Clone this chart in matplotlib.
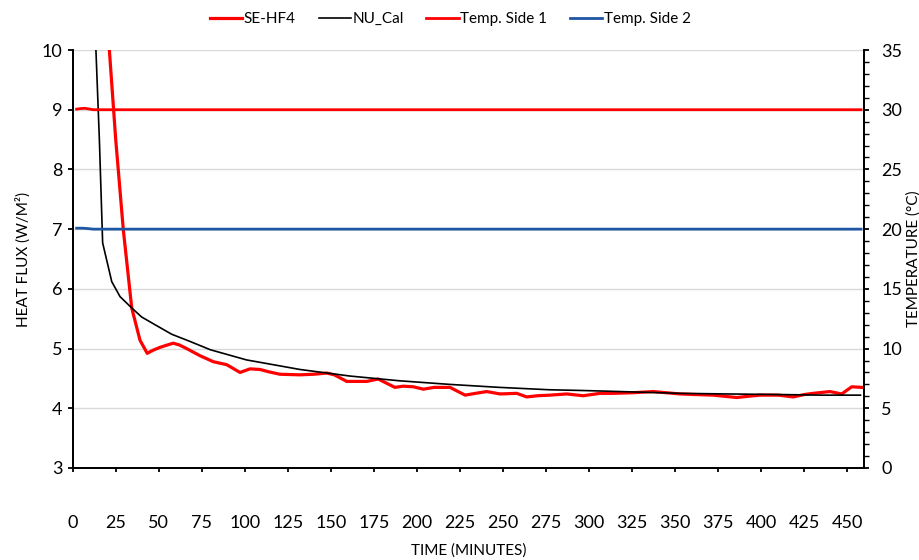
import matplotlib.pyplot as plt
from matplotlib.ticker import MultipleLocator

plt.rcParams['font.family'] = ['Lato', 'DejaVu Sans']

# Dados ####################################################################

# NU_Cal (linha preta)
t_cal = [5, 10, 13.5, 15.5, 17.4, 22.7, 27.5, 34.3, 40, 47.8, 57.5, 68.1, 80,
         101, 132, 161, 190, 219, 248, 277, 293, 306, 330, 353, 380, 411, 435, 457.7]
q_cal = [22, 14, 10.0, 8.5, 6.77, 6.12, 5.87, 5.68, 5.53, 5.40, 5.24, 5.12, 4.98,
         4.81, 4.65, 4.54, 4.46, 4.40, 4.35, 4.31, 4.30, 4.29, 4.27, 4.25, 4.24, 4.23, 4.22, 4.22]

# SE-HF4 (linha vermelha)
t_hf4 = [12, 17, 21.3, 25, 29.4, 34.3, 39.1, 43.3, 46.5, 50.7, 55, 58.4, 62, 66.2, 74,
         81.7, 89.5, 97.2, 103, 108.8, 114, 120.4, 132, 140, 147.6, 152, 159.2,
         170.8, 177.5, 187.2, 192, 197.9, 203.7, 210, 219.2, 228, 234, 240.5, 248.3,
         258, 263.8, 270, 277.3, 287, 296.6, 306.3, 314, 325, 337.3, 352.8, 362,
         372.2, 385.8, 392, 399.3, 410, 418.6, 425, 430.2, 440, 446.8, 452.6, 458.4]
q_hf4 = [15, 12, 10.0, 8.5, 6.99, 5.68, 5.14, 4.92, 4.97, 5.02, 5.06, 5.09, 5.06, 5.00, 4.88,
         4.78, 4.73, 4.60, 4.66, 4.65, 4.61, 4.57, 4.56, 4.57, 4.59, 4.56, 4.45,
         4.45, 4.49, 4.35, 4.37, 4.36, 4.32, 4.35, 4.35, 4.22, 4.25, 4.28, 4.24,
         4.25, 4.19, 4.21, 4.22, 4.24, 4.21, 4.25, 4.25, 4.26, 4.28, 4.24, 4.23,
         4.22, 4.18, 4.20, 4.22, 4.22, 4.19, 4.23, 4.25, 4.28, 4.24, 4.36, 4.35]

# Temperaturas (eixo direito)
t_temp = [2.3, 5, 7, 10, 12, 50, 150, 250, 350, 458]
temp_side1 = [30.05, 30.1, 30.12, 30.05, 30.0, 30.0, 30.0, 30.0, 30.0, 30.0]
temp_side2 = [20.08, 20.08, 20.07, 20.03, 20.0, 20.0, 20.0, 20.0, 20.0, 20.0]

x_ticks = list(range(0, 451, 25))

# Grafico ##################################################################

fig = plt.figure(figsize=(9.19, 5.6), dpi=100)
ax = fig.add_axes([0.0791, 0.1643, 0.8610, 0.7464])
ax2 = ax.twinx()

l1, = ax.plot(t_hf4, q_hf4, color='#ff0000', lw=2.3, label='SE-HF4', zorder=3)
l2, = ax.plot(t_cal, q_cal, color='black', lw=1.2, label='NU_Cal', zorder=4)
l3, = ax2.plot(t_temp, temp_side1, color='#ff0000', lw=2.0, label='Temp. Side 1')
l4, = ax2.plot(t_temp, temp_side2, color='#1f56a3', lw=2.0, label='Temp. Side 2')

ax.set_xlim(0, 459.7)
ax.set_ylim(3, 10)
ax2.set_ylim(0, 35)

ax.set_xticks(x_ticks)
ax.yaxis.set_major_locator(MultipleLocator(1))
ax2.yaxis.set_major_locator(MultipleLocator(5))
ax2.yaxis.set_minor_locator(MultipleLocator(1))

ax.grid(axis='y', color='#d9d9d9', lw=1.0)
ax.set_axisbelow(True)

for a in (ax, ax2):
    a.spines['top'].set_visible(False)
    for s in ('left', 'right', 'bottom'):
        a.spines[s].set_linewidth(1.3)

ax.tick_params(axis='x', direction='out', length=3, width=1.3, pad=31, labelsize=13)
ax.tick_params(axis='y', direction='out', length=3.5, width=1.3, pad=4, labelsize=13)
ax2.tick_params(axis='y', which='major', direction='out', length=3.5, width=1.3, pad=9, labelsize=13)
ax2.tick_params(axis='y', which='minor', direction='out', length=3.5, width=1.0)

ax.set_xlabel('TIME (MINUTES)', fontsize=11, labelpad=9)
ax.set_ylabel('HEAT FLUX (W/M²)', fontsize=11, labelpad=8)
ax2.set_ylabel('TEMPERATURE (°C)', fontsize=11, labelpad=3)

fig.legend(handles=[l1, l2, l3, l4], loc='center', bbox_to_anchor=(0.49, 0.966),
           ncol=4, frameon=False, fontsize=11, handlelength=2.1, handletextpad=0.1,
           columnspacing=1.5)

fig.savefig('out.png', dpi=100)
